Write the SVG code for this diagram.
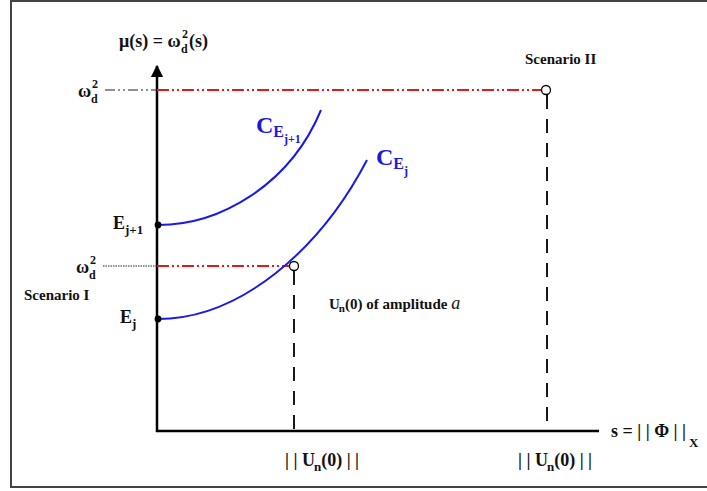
<svg xmlns="http://www.w3.org/2000/svg" width="707" height="491" viewBox="0 0 707 491">
<defs>
<style>
text{font-family:"Liberation Serif","Times New Roman",serif;font-weight:bold;fill:#111;}
.t{font-size:18px;}
.s{font-size:13px;}
.ss{font-size:12px;}
.axis{stroke:#000;stroke-width:2.5;fill:none;}
.curve{stroke:#1a1ae6;stroke-width:2;fill:none;}
.red{stroke:#e41a1a;stroke-width:1.8;stroke-dasharray:12 3 2 3 2 3;fill:none;}
.vd{stroke:#000;stroke-width:1.8;stroke-dasharray:14 10;fill:none;}
.b{fill:#1a1adc;}
</style>
<marker id="arr" viewBox="0 0 10 10" refX="9" refY="5" markerWidth="5" markerHeight="5" orient="auto">
<path d="M0,0 L10,5 L0,10 z" fill="#000"/>
</marker>
</defs>
<rect x="11" y="1" width="710" height="486" fill="#fff" stroke="#444" stroke-width="2"/>
<g id="connectors">
<line class="axis" x1="157" y1="432" x2="157" y2="66" marker-end="url(#arr)"/>
<line class="axis" x1="156" y1="431" x2="599" y2="431"/>
<line x1="105" y1="90" x2="157" y2="90" stroke="#222" stroke-width="1.2" stroke-dasharray="10 3 2 3 2 3"/>
<line class="red" x1="157" y1="90" x2="542" y2="90"/>
<line x1="103" y1="266" x2="157" y2="266" stroke="#222" stroke-width="1" stroke-dasharray="1.5 1"/>
<line class="red" x1="157" y1="266" x2="289" y2="266"/>
<line class="vd" x1="547" y1="95" x2="547" y2="431"/>
<line class="vd" x1="294" y1="271" x2="294" y2="431"/>
<path class="curve" d="M158,225 C220,225 290,185 321,110"/>
<path class="curve" d="M158,319 C240,319 320,250 367,160"/>
</g>
<g id="yaxis-label">
<text class="t" x="119" y="47">μ(s) = ω</text>
<text class="ss" x="181" y="53">d</text>
<text class="ss" x="182" y="38">2</text>
<text class="t" x="189" y="47">(s)</text>
</g>
<g id="omega-top">
<text class="t" x="78" y="97">ω</text>
<text class="ss" x="91" y="103">d</text>
<text class="ss" x="92" y="88">2</text>
</g>
<g id="omega-low">
<text class="t" x="76" y="273">ω</text>
<text class="ss" x="89" y="279">d</text>
<text class="ss" x="90" y="264">2</text>
</g>
<g id="Ej1"><circle cx="158" cy="225" r="3.4" fill="#000"/><text class="t" x="113" y="229">E<tspan class="s" dy="5">j+1</tspan></text></g>
<g id="Ej"><circle cx="158" cy="319" r="3.4" fill="#000"/><text class="t" x="120" y="323">E<tspan class="s" dy="5">j</tspan></text></g>
<g id="scenario1"><text x="24" y="300" style="font-size:15px">Scenario I</text></g>
<g id="scenario2"><text x="525" y="64" style="font-size:15px">Scenario II</text></g>
<g id="CEj1"><text class="b" x="256" y="133" style="font-size:24px">C<tspan style="font-size:16px" dy="4">E</tspan><tspan style="font-size:12px" dy="6">j+1</tspan></text></g>
<g id="CEj"><text class="b" x="376" y="165" style="font-size:24px">C<tspan style="font-size:16px" dy="4">E</tspan><tspan style="font-size:12px" dy="6">j</tspan></text></g>
<g id="pt-low"><circle cx="294" cy="266" r="4.5" fill="#fff" stroke="#000" stroke-width="1.3"/></g>
<g id="pt-high"><circle cx="546" cy="90" r="4.5" fill="#fff" stroke="#000" stroke-width="1.3"/></g>
<g id="un-label"><text x="329" y="309" style="font-size:15px">U<tspan style="font-size:11px" dy="3" dx="-1">n</tspan><tspan dy="-3">(0) of amplitude  </tspan><tspan style="font-style:italic;font-weight:normal;font-size:18px">a</tspan></text></g>
<g id="x1-label"><text class="t" x="285" y="466">| | U<tspan class="s" dy="5" dx="-1">n</tspan><tspan dy="-5">(0) | |</tspan></text></g>
<g id="x2-label"><text class="t" x="518" y="466">| | U<tspan class="s" dy="5" dx="-1">n</tspan><tspan dy="-5">(0) | |</tspan></text></g>
<g id="xaxis-label"><text class="t" x="611" y="437">s = | | Φ | |<tspan class="s" dx="3" dy="10">X</tspan></text></g>
</svg>
